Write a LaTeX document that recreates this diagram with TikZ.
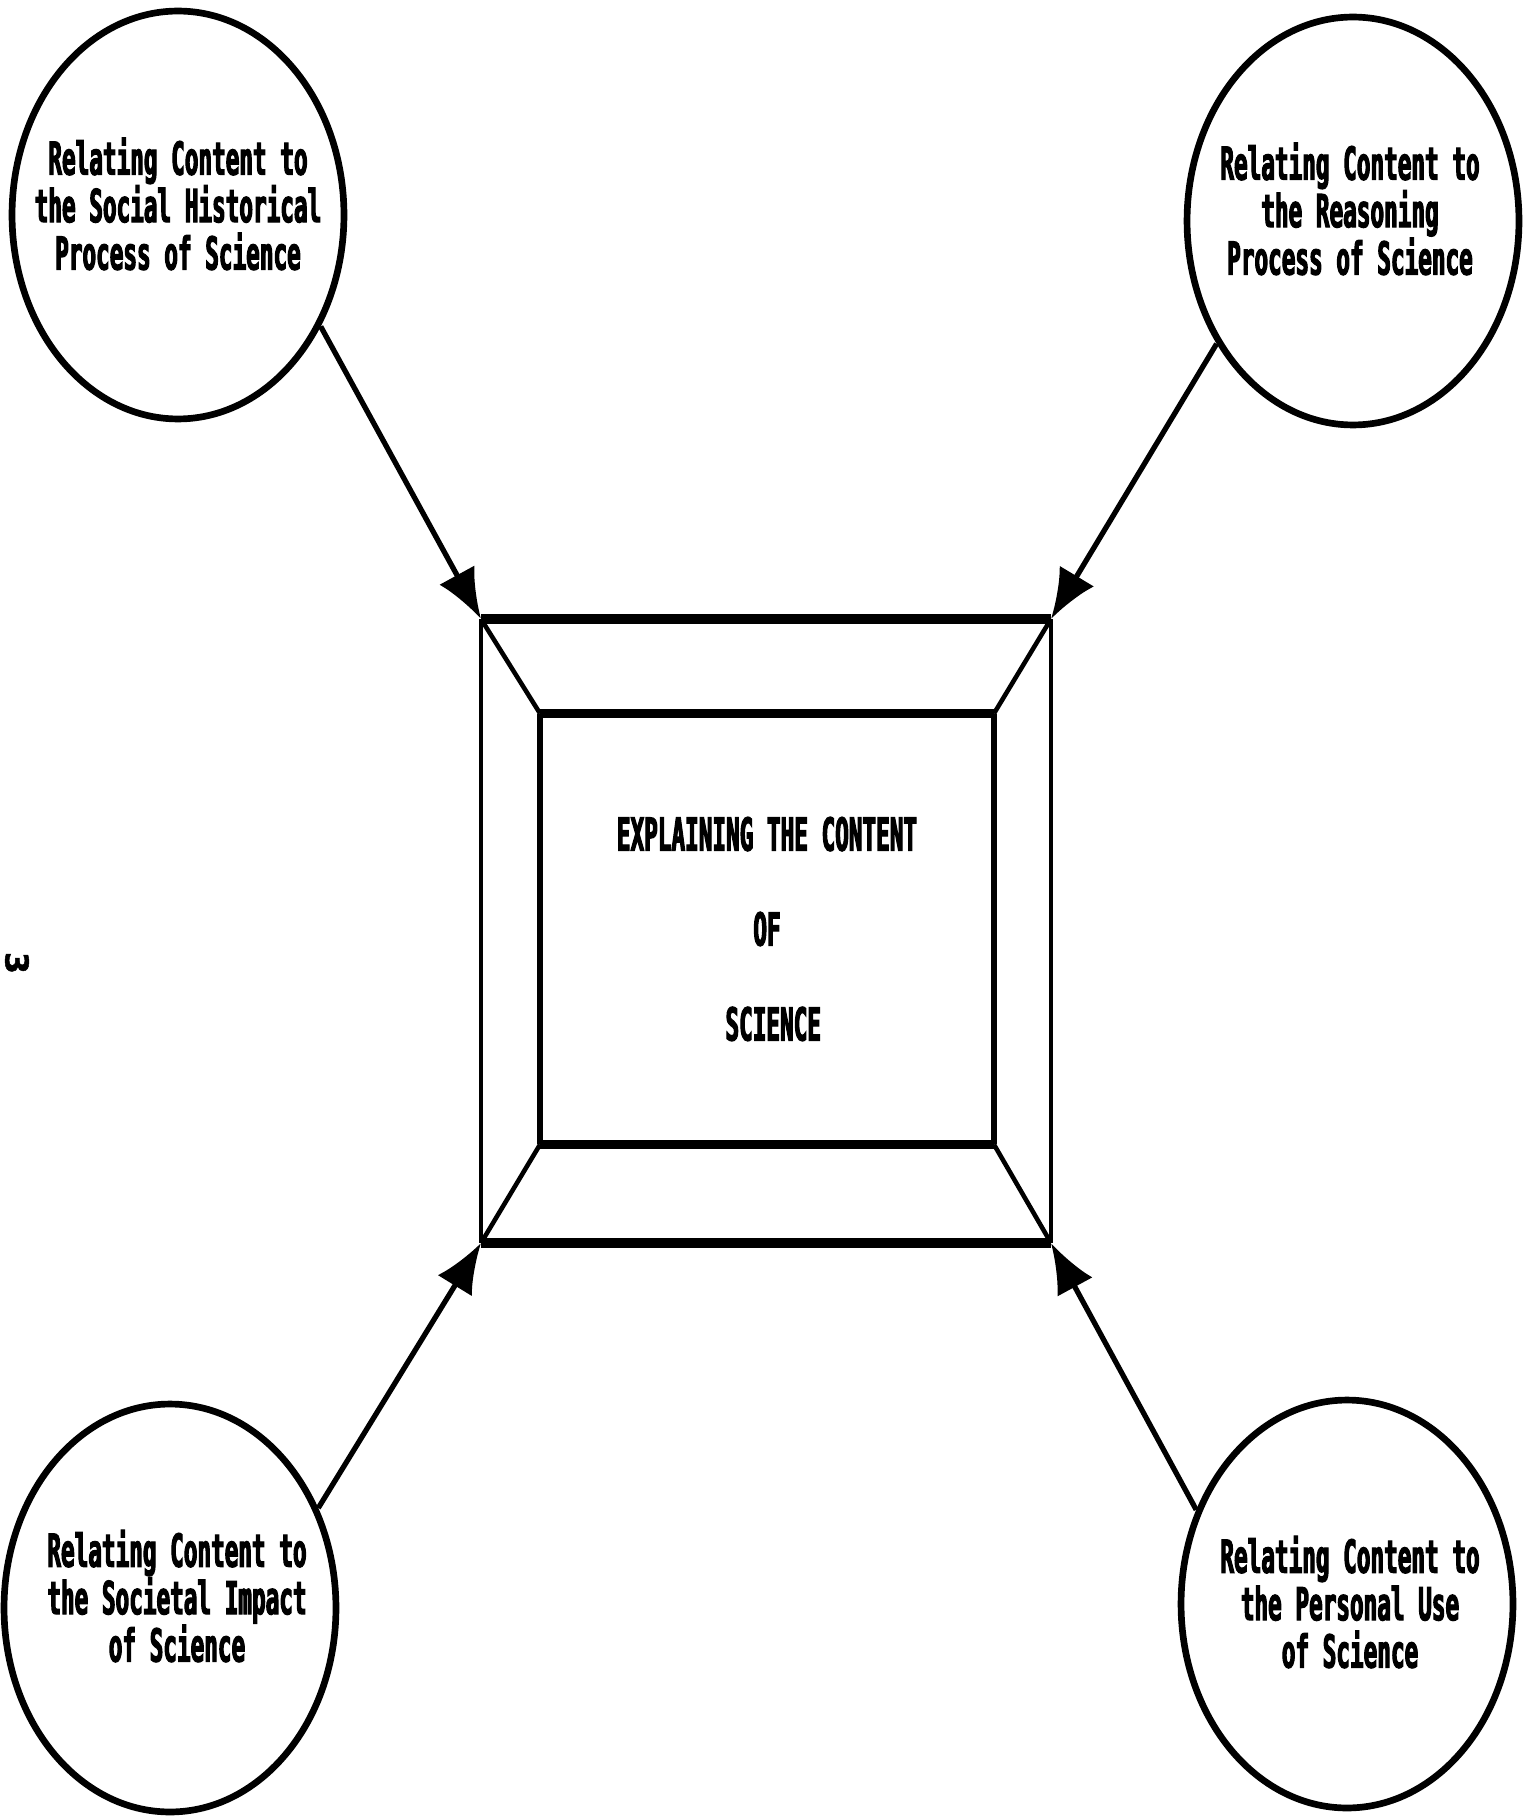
\documentclass[tikz,border=0pt]{standalone}
\usepackage{fontspec}
\usetikzlibrary{shapes.geometric,arrows.meta}
\newfontfamily\machine[FakeStretch=0.5,FakeBold=2.5]{DejaVu Sans Mono Bold}
\newfontfamily\chiffre[FakeBold=1.5]{DejaVu Sans Bold}
\begin{document}
\begin{tikzpicture}[x=0.02cm,y=-0.02cm]
	% Styles (A ADAPTER)
	\tikzstyle{fleche}=[-{Latex[length=1cm,width=0.8cm]},line width=3pt]
	\tikzstyle{bulle}=[ellipse,draw,line width=3.8pt,minimum width=6.64cm,minimum height=8.16cm]
	\tikzstyle{texte}=[font=\machine\fontsize{25.8pt}{27pt}\selectfont,align=center,inner sep=0pt]
	\tikzstyle{cadre}=[rectangle,inner sep=0pt,outer sep=0pt]
	\tikzstyle{bordepais}=[line width=5.5pt]
	\tikzstyle{bordfin}=[line width=2.2pt]
	\tikzstyle{bordmoyen}=[line width=3pt]
	\tikzstyle{biais}=[line width=2.6pt]
	% Dimensions (A ADAPTER)
	\def\LargeurExt{11.4cm}
	\def\HauteurExt{12.48cm}
	\def\LargeurInt{9.08cm}
	\def\HauteurInt{8.62cm}
	% Page
	\useasboundingbox (0,0) rectangle (1527,1817);
	% Bulles
	\node[bulle] (B1) at (178,215) {};
	\node[bulle] (B2) at (1353,221) {};
	\node[bulle] (B3) at (170,1608) {};
	\node[bulle] (B4) at (1347,1604) {};
	\node[texte] (T1) at (178,204) {Relating Content to\\the Social Historical\\Process of Science};
	\node[texte] (T2) at (1350,209) {Relating Content to\\the Reasoning\\Process of Science};
	\node[texte] (T3) at (177,1596) {Relating Content to\\the Societal Impact\\of Science};
	\node[texte] (T4) at (1350,1602) {Relating Content to\\the Personal Use\\of Science};
	% Cadres
	\node[cadre,minimum width=\LargeurExt,minimum height=\HauteurExt] (E) at (766,931) {};
	\node[cadre,texte,minimum width=\LargeurInt,minimum height=\HauteurInt] (I) at (767,929)
		{EXPLAINING THE CONTENT\\[0.95cm]OF\\[0.95cm]\hspace*{0.25cm}SCIENCE};
	\draw[bordepais] (E.north west) -- (E.north east);
	\draw[bordepais] (E.south west) -- (E.south east);
	\draw[bordfin] (E.north west) -- (E.south west);
	\draw[bordfin] (E.north east) -- (E.south east);
	\draw[bordepais] (I.north west) -- (I.north east);
	\draw[bordepais] (I.south west) -- (I.south east);
	\draw[bordmoyen] (I.north west) -- (I.south west);
	\draw[bordmoyen] (I.north east) -- (I.south east);
	\foreach \coin in {north west,north east,south west,south east}
		\draw[biais] (E.\coin) -- (I.\coin);
	% Fleches
	\draw[fleche] (B1.-38) -- (E.north west);
	\draw[fleche] (B2.-138) -- (E.north east);
	\draw[fleche] (B3.34) -- (E.south west);
	\draw[fleche] (B4.148) -- (E.south east);
	% Numero de page
	\node[font=\chiffre\fontsize{18pt}{18pt}\selectfont,rotate=-90,inner sep=0pt] (P) at (17,963) {3};
\end{tikzpicture}
\end{document}
